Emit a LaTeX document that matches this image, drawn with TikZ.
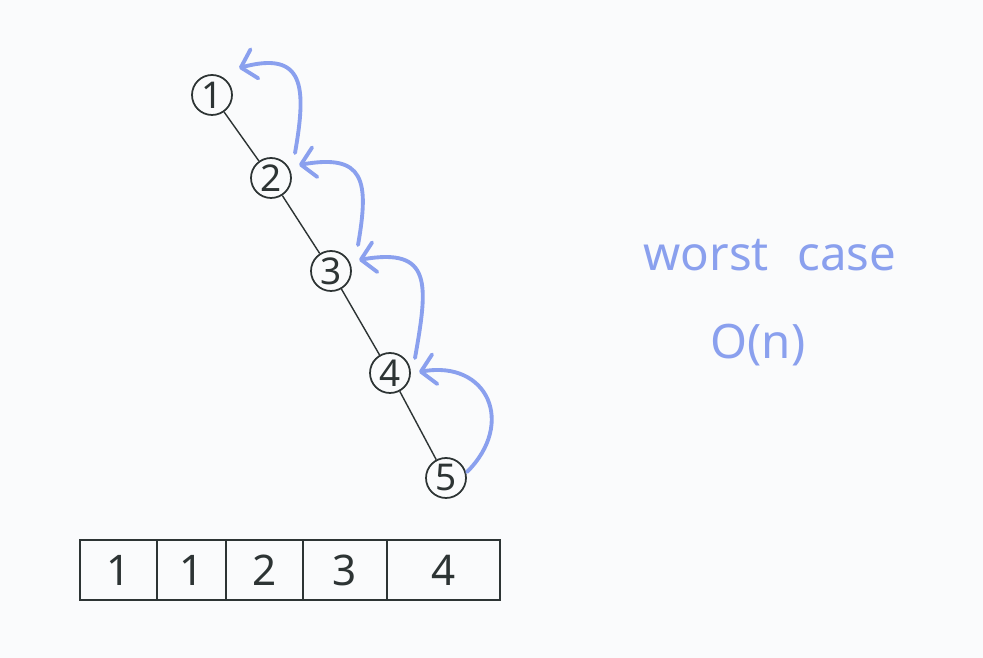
\documentclass[tikz,border=0pt]{standalone}
\usepackage{fontspec}
\setmainfont{Noto Sans}
\usetikzlibrary{arrows.meta, positioning, calc}
\definecolor{penblue}{RGB}{138,160,238}
\definecolor{pencil}{RGB}{45,52,52}
\definecolor{paper}{RGB}{250,251,252}
\tikzset{vertex/.style={circle,draw=pencil,line width=1pt,minimum size=0.8cm,inner sep=0pt,
    font=\fontsize{21}{25}\selectfont,text=pencil},
    edge/.style={draw=pencil,line width=0.8pt},
    jump/.style={draw=penblue,line width=2.2pt,line cap=round,
    -{Straight Barb[length=2.8mm,width=6mm,round]}},
    cell/.style={draw=pencil,line width=1pt,minimum height=1.2cm,inner sep=0pt,outer sep=0pt,
    font=\fontsize{24}{28}\selectfont,text=pencil},
    note/.style={text=penblue,font=\fontsize{27}{32}\selectfont}}

\begin{document}
\begin{tikzpicture}[x=0.02cm,y=0.02cm]

% Paper
\fill[paper] (0,0) rectangle (983,658);
\useasboundingbox (0,0) rectangle (983,658);

% The chain of nodes
\node[vertex] (n1) at (212,563) {1};
\node[vertex] (n2) at (271,480) {2};
\node[vertex] (n3) at (331,387) {3};
\node[vertex] (n4) at (390,285) {4};
\node[vertex] (n5) at (446,180) {5};

\draw[edge] (n1) -- (n2) -- (n3) -- (n4) -- (n5);

% Parent jumps
\draw[jump] ($(n2)+(24,25)$) to[out=80,in=15,looseness=1.7] ($(n1)+(27,27)$);
\draw[jump] ($(n3)+(27,26)$) to[out=80,in=10,looseness=1.7] ($(n2)+(28,13)$);
\draw[jump] ($(n4)+(25,15)$) to[out=80,in=10,looseness=1.7] ($(n3)+(28,11)$);
\draw[jump] ($(n5)+(21,6)$) to[out=45,in=10,looseness=1.6] ($(n4)+(29,1)$);

% The array
\node[cell,minimum width=1.54cm] (c1) at (118.5,88) {1};
\node[cell,minimum width=1.38cm,right=0pt of c1] (c2) {1};
\node[cell,minimum width=1.54cm,right=0pt of c2] (c3) {2};
\node[cell,minimum width=1.68cm,right=0pt of c3] (c4) {3};
\node[cell,minimum width=2.26cm,right=0pt of c4] (c5) {4};

% Notes
\node[note] (worst) at (770,403) {worst\hspace{0.6em}case};
\node[note] (bigo) at (758,313) {O(n)};
\end{tikzpicture}
\end{document}
